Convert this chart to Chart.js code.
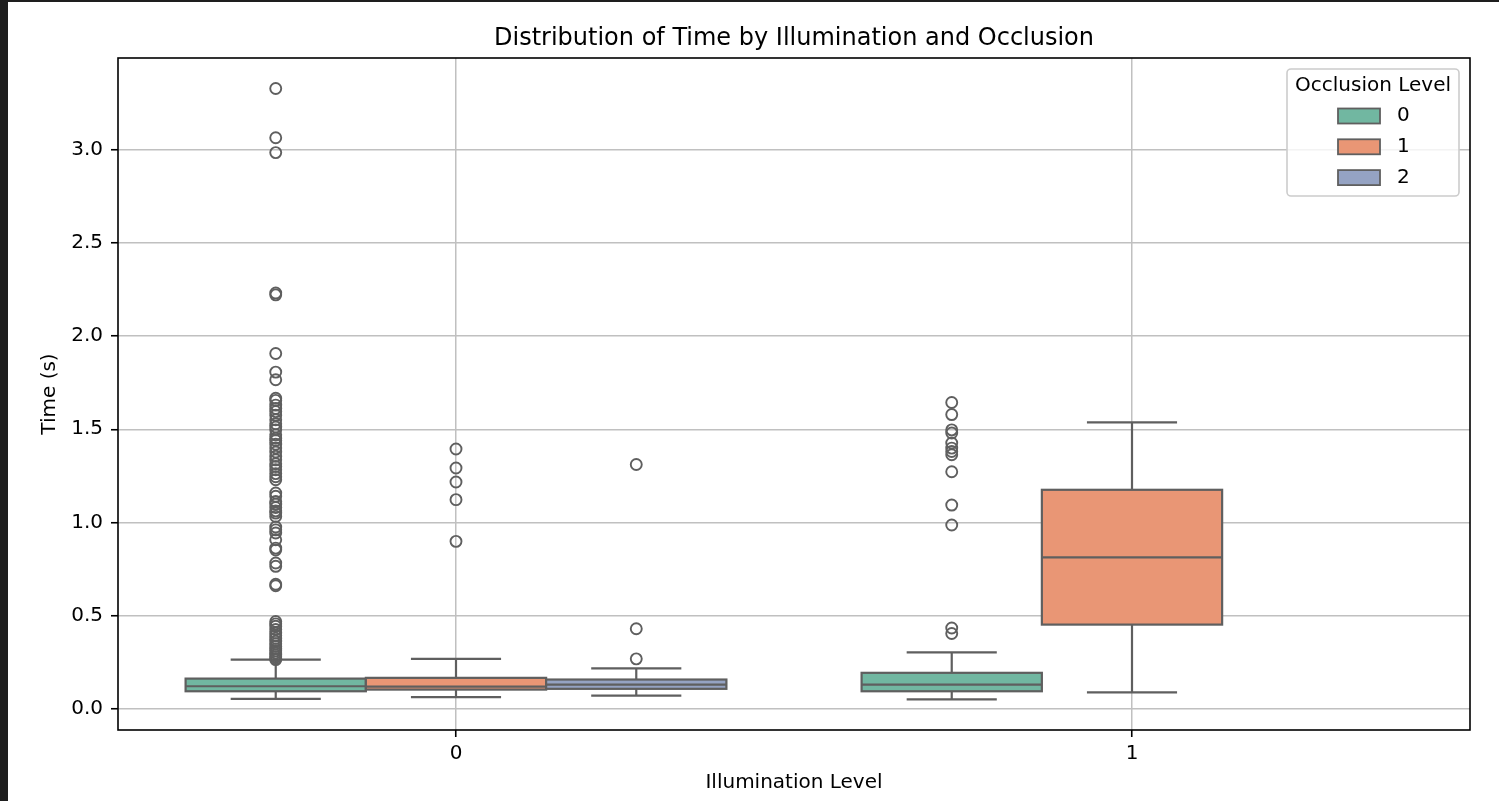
<!DOCTYPE html>
<html>
<head>
<meta charset="utf-8">
<title>Distribution of Time by Illumination and Occlusion</title>
<script src="https://cdn.jsdelivr.net/npm/chart.js@4.4.1/dist/chart.umd.min.js"></script>
<style>
  html, body { margin: 0; padding: 0; background: #1e1e1e; overflow: hidden; }
  #wrap { position: absolute; left: 8px; top: 2px; width: 1491px; height: 799px; background: #fff; }
</style>
</head>
<body>
<div id="wrap"><canvas id="boxChart" width="1491" height="799"></canvas></div>
<script>
const illuminationLevels = ['0', '1']
const occlusionLevels = ['0', '1', '2']
const occlusionColors = ['#71b7a1', '#e99675', '#95a3c3']
const yTicks = [0, 0.5, 1.0, 1.5, 2.0, 2.5, 3.0]

// one entry per box that is drawn (illumination 1 has no occlusion 2)
const boxIllumination = [0, 0, 0, 1, 1]
const boxOcclusion = [0, 1, 2, 0, 1]
const boxQ1 = [0.093, 0.102, 0.106, 0.093, 0.451]
const boxMedian = [0.120, 0.118, 0.129, 0.129, 0.812]
const boxQ3 = [0.161, 0.165, 0.156, 0.192, 1.175]
const whiskerLow = [0.052, 0.061, 0.070, 0.049, 0.087]
const whiskerHigh = [0.263, 0.267, 0.216, 0.302, 1.537]

const outliersIll0Occ0 = [3.330, 3.066, 2.986, 2.232, 2.222, 1.907, 1.807, 1.766, 1.667, 1.655,
  1.630, 1.612, 1.595, 1.575, 1.551, 1.530, 1.512, 1.497, 1.470, 1.452, 1.440, 1.420, 1.400,
  1.378, 1.355, 1.336, 1.315, 1.300, 1.283, 1.262, 1.245, 1.229, 1.158, 1.140, 1.112, 1.098,
  1.080, 1.062, 1.050, 1.032, 0.975, 0.960, 0.943, 0.907, 0.862, 0.852, 0.782, 0.764, 0.668,
  0.660, 0.468, 0.455, 0.442, 0.425, 0.406, 0.392, 0.378, 0.362, 0.348, 0.334, 0.320, 0.310,
  0.299, 0.288, 0.278, 0.268, 0.263]
const outliersIll0Occ1 = [1.394, 1.292, 1.217, 1.122, 0.898]
const outliersIll0Occ2 = [1.311, 0.429, 0.267]
const outliersIll1Occ0 = [1.644, 1.579, 1.497, 1.480, 1.426, 1.399, 1.381, 1.363, 1.272, 1.093, 0.986, 0.433, 0.403]
const outliersIll1Occ1 = []
const boxOutliers = [outliersIll0Occ0, outliersIll0Occ1, outliersIll0Occ2, outliersIll1Occ0, outliersIll1Occ1]

const lineColor = '#5f5f5f'
const groupWidth = 0.8
const boxWidth = groupWidth / occlusionLevels.length

function boxCenter (i) {
  // seaborn style dodge: hue levels share the 0.8 wide slot of each category
  return boxIllumination[i] + (boxOcclusion[i] - (occlusionLevels.length - 1) / 2) * boxWidth
}

function dataLimits () {
  let all = whiskerLow.concat(whiskerHigh)
  boxOutliers.forEach(function (list) { all = all.concat(list) })
  const lo = Math.min.apply(null, all)
  const hi = Math.max.apply(null, all)
  const margin = (hi - lo) * 0.05
  return { min: lo - margin, max: hi + margin }
}

const boxPlugin = {
  id: 'boxes',
  beforeDatasetsDraw (chart) {
    const ctx = chart.ctx
    const x = chart.scales.x
    const y = chart.scales.y
    ctx.save()
    ctx.strokeStyle = lineColor
    ctx.lineWidth = 2.2
    ctx.lineCap = 'butt'
    boxQ1.forEach(function (q1, i) {
      const c = boxCenter(i)
      const mid = x.getPixelForValue(c)
      const left = x.getPixelForValue(c - boxWidth / 2)
      const right = x.getPixelForValue(c + boxWidth / 2)
      const capLeft = x.getPixelForValue(c - boxWidth / 4)
      const capRight = x.getPixelForValue(c + boxWidth / 4)
      const top = y.getPixelForValue(boxQ3[i])
      const bottom = y.getPixelForValue(q1)

      ctx.beginPath()
      ctx.moveTo(mid, top)
      ctx.lineTo(mid, y.getPixelForValue(whiskerHigh[i]))
      ctx.moveTo(mid, bottom)
      ctx.lineTo(mid, y.getPixelForValue(whiskerLow[i]))
      ctx.moveTo(capLeft, y.getPixelForValue(whiskerHigh[i]))
      ctx.lineTo(capRight, y.getPixelForValue(whiskerHigh[i]))
      ctx.moveTo(capLeft, y.getPixelForValue(whiskerLow[i]))
      ctx.lineTo(capRight, y.getPixelForValue(whiskerLow[i]))
      ctx.stroke()

      ctx.fillStyle = occlusionColors[boxOcclusion[i]]
      ctx.fillRect(left, top, right - left, bottom - top)
      ctx.strokeRect(left, top, right - left, bottom - top)

      const med = y.getPixelForValue(boxMedian[i])
      ctx.beginPath()
      ctx.moveTo(left, med)
      ctx.lineTo(right, med)
      ctx.stroke()
    })
    ctx.restore()
  },
  afterDatasetsDraw (chart) {
    // axes frame on all four sides
    const a = chart.chartArea
    const ctx = chart.ctx
    ctx.save()
    ctx.strokeStyle = '#000'
    ctx.lineWidth = 1.6
    ctx.strokeRect(a.left, a.top, a.right - a.left, a.bottom - a.top)
    ctx.restore()
  },
  afterDraw (chart) {
    drawLegend(chart)
  }
}

function drawLegend (chart) {
  const a = chart.chartArea
  const ctx = chart.ctx
  const w = 172
  const h = 127
  const left = a.right - 11 - w
  const top = a.top + 11

  ctx.save()
  ctx.beginPath()
  ctx.roundRect(left, top, w, h, 4)
  ctx.fillStyle = 'rgba(255,255,255,0.8)'
  ctx.fill()
  ctx.strokeStyle = '#cccccc'
  ctx.lineWidth = 1.6
  ctx.stroke()

  ctx.fillStyle = '#000'
  ctx.font = '20px "DejaVu Sans"'
  ctx.textBaseline = 'middle'
  ctx.textAlign = 'center'
  ctx.fillText('Occlusion Level', left + w / 2, top + 17)

  ctx.textAlign = 'left'
  occlusionLevels.forEach(function (level, k) {
    const cy = top + 47 + k * 30.8
    ctx.fillStyle = occlusionColors[k]
    ctx.fillRect(left + 51, cy - 7.5, 42, 15)
    ctx.strokeStyle = lineColor
    ctx.lineWidth = 1.8
    ctx.strokeRect(left + 51, cy - 7.5, 42, 15)
    ctx.fillStyle = '#000'
    ctx.fillText(level, left + 110, cy)
  })
  ctx.restore()
}

function makeOutlierDatasets () {
  return boxOutliers.map(function (list, i) {
    return {
      label: illuminationLevels[boxIllumination[i]] + ' / ' + occlusionLevels[boxOcclusion[i]],
      data: list.map(function (v) { return { x: boxCenter(i), y: v } }),
      pointStyle: 'circle',
      pointRadius: 5.5,
      pointBorderWidth: 1.9,
      pointBorderColor: lineColor,
      pointBackgroundColor: 'rgba(0,0,0,0)'
    }
  })
}

function makeBoxChart ($canvas) {
  const limits = dataLimits()
  Chart.defaults.font.family = '"DejaVu Sans", sans-serif'
  Chart.defaults.font.size = 20
  Chart.defaults.color = '#000'

  new Chart($canvas, {
    type: 'scatter',
    data: { datasets: makeOutlierDatasets() },
    plugins: [boxPlugin],
    options: {
      responsive: false,
      animation: false,
      layout: { padding: { left: 0, right: 29, top: 0, bottom: 0 } },
      plugins: {
        legend: { display: false },
        tooltip: { enabled: false },
        title: {
          display: true,
          text: 'Distribution of Time by Illumination and Occlusion',
          fullSize: false,
          color: '#000',
          font: { size: 24, weight: 'normal' },
          padding: { top: 22.6, bottom: 4.6 }
        }
      },
      scales: {
        x: {
          type: 'linear',
          min: -0.5,
          max: 1.5,
          afterBuildTicks: function (scale) {
            scale.ticks = illuminationLevels.map(function (l, i) { return { value: i } })
          },
          afterFit: function (scale) { scale.height = 71 },
          ticks: {
            color: '#000',
            padding: 5,
            callback: function (value) { return illuminationLevels[value] }
          },
          grid: { color: '#c0c0c0', lineWidth: 1.5, tickColor: '#000', tickLength: 7, tickWidth: 1.6 },
          border: { display: false },
          title: { display: true, text: 'Illumination Level', color: '#000', padding: { top: 0, bottom: 6 } }
        },
        y: {
          type: 'linear',
          min: limits.min,
          max: limits.max,
          afterBuildTicks: function (scale) {
            scale.ticks = yTicks.map(function (v) { return { value: v } })
          },
          afterFit: function (scale) { scale.width = 110 },
          ticks: {
            color: '#000',
            padding: 8,
            callback: function (value) { return value.toFixed(1) }
          },
          grid: { color: '#c0c0c0', lineWidth: 1.5, tickColor: '#000', tickLength: 7, tickWidth: 1.6 },
          border: { display: false },
          title: { display: true, text: 'Time (s)', color: '#000', padding: { top: 30, bottom: 0 } }
        }
      }
    }
  })
}

makeBoxChart(document.getElementById('boxChart'))
</script>
</body>
</html>
